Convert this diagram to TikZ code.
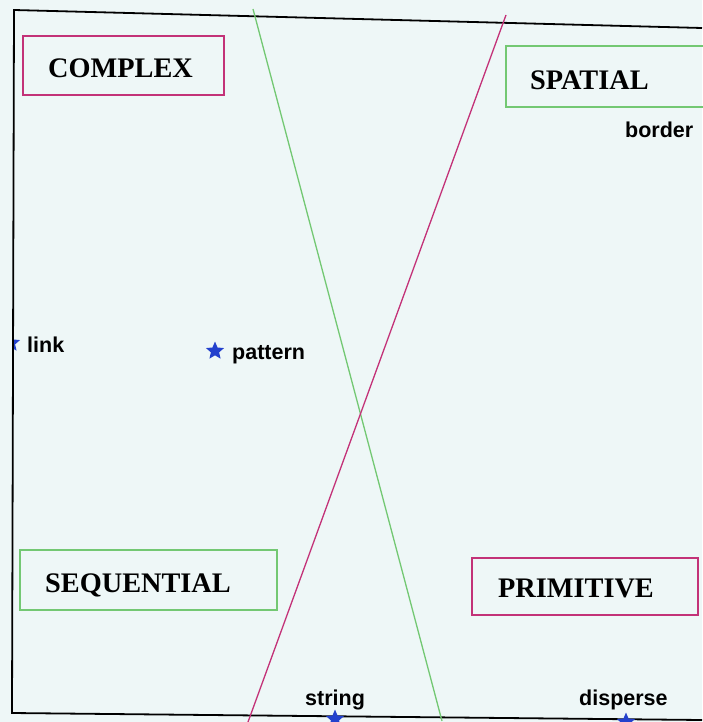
\documentclass[tikz,border=0pt]{standalone}
\usepackage{fontspec}
\setmainfont{Liberation Serif}
\setsansfont{Liberation Sans}
\usetikzlibrary{shapes.geometric}
\definecolor{bgc}{RGB}{238,247,247}
\definecolor{mag}{RGB}{195,50,120}
\definecolor{grn}{RGB}{115,200,115}
\definecolor{starc}{RGB}{35,65,205}
\tikzset{
  boxm/.style={draw=mag, line width=1.3pt, rectangle, inner sep=0pt},
  boxg/.style={draw=grn, line width=1.3pt, rectangle, inner sep=0pt},
  title/.style={font=\fontsize{28.3}{30}\selectfont\bfseries, inner sep=0pt, anchor=base west, text=black},
  lab/.style={font=\fontsize{21.5}{24}\selectfont\sffamily\bfseries, inner sep=0pt, anchor=base west, text=black},
  bstar/.style={star, star points=5, star point ratio=2.2, fill=starc, draw=none, minimum size=19pt, inner sep=0pt},
}
\begin{document}
\begin{tikzpicture}[x=1pt,y=-1pt]
\useasboundingbox (0,0) rectangle (702,722);
\fill[bgc] (0,0) rectangle (702,722);
% frame
\coordinate (tl) at (14,10);
\coordinate (tr) at (702,28);
\coordinate (bl) at (12,713);
\coordinate (br) at (702,720);
\draw[black, line width=1.8pt] (tr) -- (tl) -- (bl) -- (br);
% diagonal lines
\coordinate (gtop) at (253,9);
\coordinate (gbot) at (442,721);
\coordinate (mtop) at (506,15);
\coordinate (mbot) at (248,722);
\draw[grn, line width=1.3pt] (gtop) -- (gbot);
\draw[mag, line width=1.3pt] (mtop) -- (mbot);
% boxes
\node[boxm, minimum width=201pt, minimum height=59pt] (complexbox) at (123.5,65.5) {};
\node[title] (complex) at (48,78) {COMPLEX};
\node[boxg, minimum width=198pt, minimum height=61pt] (spatialbox) at (605,76.5) {};
\node[title] (spatial) at (530,90) {SPATIAL};
\node[boxg, minimum width=257pt, minimum height=60pt] (seqbox) at (148.5,580) {};
\node[title] (seq) at (45,592) {SEQUENTIAL};
\node[boxm, minimum width=226pt, minimum height=57pt] (primbox) at (585,586.5) {};
\node[title] (prim) at (498,597) {PRIMITIVE};
% labels
\node[lab] (border) at (625,138) {border};
\node[lab] (link) at (27,352) {link};
\node[lab] (pattern) at (232,359) {pattern};
\node[lab] (string) at (305,705) {string};
\node[lab] (disperse) at (579,705) {disperse};
% stars
\begin{scope}
\clip (14,0) rectangle (702,722);
\node[bstar] (linkstar) at (11,343) {};
\end{scope}
\node[bstar] (patternstar) at (215,351) {};
\node[bstar] (stringstar) at (335,719) {};
\node[bstar] (dispersestar) at (626,722) {};
\end{tikzpicture}
\end{document}
